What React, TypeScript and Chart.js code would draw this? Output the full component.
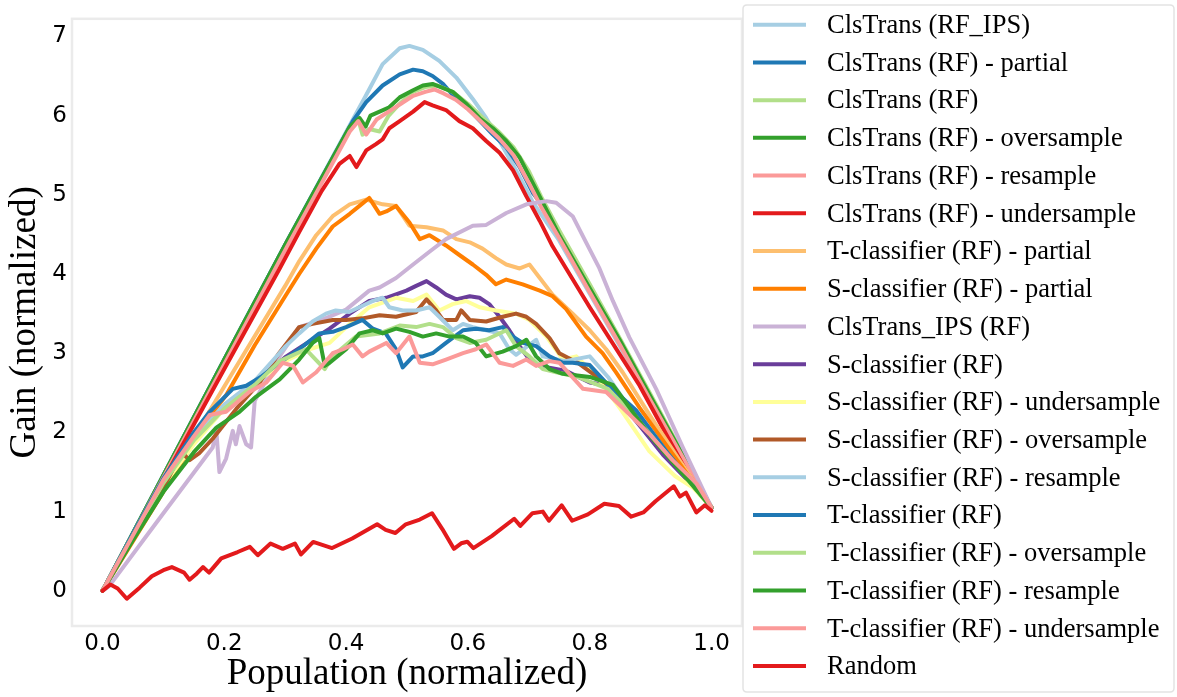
import { useEffect, useRef } from "react";
import { Chart, registerables } from "chart.js";

Chart.register(...registerables);

type Pt = [number, number];

const seriesLabels = [
  "ClsTrans (RF_IPS)",
  "ClsTrans (RF) - partial",
  "ClsTrans (RF)",
  "ClsTrans (RF) - oversample",
  "ClsTrans (RF) - resample",
  "ClsTrans (RF) - undersample",
  "T-classifier (RF) - partial",
  "S-classifier (RF) - partial",
  "ClsTrans_IPS (RF)",
  "S-classifier (RF)",
  "S-classifier (RF) - undersample",
  "S-classifier (RF) - oversample",
  "S-classifier (RF) - resample",
  "T-classifier (RF)",
  "T-classifier (RF) - oversample",
  "T-classifier (RF) - resample",
  "T-classifier (RF) - undersample",
  "Random",
];

const seriesColors = [
  "#a6cee3", "#1f78b4", "#b2df8a", "#33a02c", "#fb9a99", "#e31a1c",
  "#fdbf6f", "#ff7f00", "#cab2d6", "#6a3d9a", "#ffff99", "#b15928",
  "#a6cee3", "#1f78b4", "#b2df8a", "#33a02c", "#fb9a99", "#e31a1c",
];

const clsTransRfIps: Pt[] = [[0,0],[0.1,1.46],[0.2,2.92],[0.3,4.37],[0.406,5.88],[0.433,6.26],[0.46,6.65],[0.488,6.85],[0.504,6.88],[0.526,6.83],[0.553,6.69],[0.581,6.48],[0.608,6.21],[0.63,5.97],[0.652,5.68],[0.679,5.31],[0.707,4.9],[0.75,4.42],[0.8,3.75],[0.85,3.08],[0.9,2.4],[0.95,1.72],[1,1.05]];
const clsTransPartial: Pt[] = [[0,0],[0.1,1.46],[0.2,2.92],[0.3,4.37],[0.411,5.93],[0.433,6.17],[0.46,6.38],[0.488,6.52],[0.51,6.58],[0.526,6.56],[0.542,6.5],[0.559,6.4],[0.581,6.21],[0.603,6.07],[0.624,5.9],[0.641,5.76],[0.663,5.6],[0.685,5.35],[0.707,5.02],[0.729,4.8],[0.8,3.84],[0.85,3.15],[0.9,2.45],[0.95,1.76],[1,1.05]];
const clsTransRf: Pt[] = [[0,0],[0.1,1.45],[0.2,2.9],[0.3,4.34],[0.406,5.84],[0.42,5.95],[0.427,5.76],[0.438,5.83],[0.455,5.8],[0.47,6.0],[0.488,6.15],[0.51,6.3],[0.53,6.36],[0.55,6.38],[0.575,6.3],[0.6,6.15],[0.625,5.97],[0.65,5.8],[0.675,5.6],[0.7,5.3],[0.72,4.98],[0.75,4.55],[0.8,3.87],[0.85,3.18],[0.9,2.48],[0.95,1.77],[1,1.05]];
const clsTransOver: Pt[] = [[0,0],[0.1,1.46],[0.2,2.92],[0.3,4.37],[0.406,5.86],[0.422,5.97],[0.432,5.86],[0.44,6.0],[0.455,6.05],[0.47,6.1],[0.488,6.23],[0.51,6.32],[0.526,6.38],[0.542,6.4],[0.575,6.3],[0.597,6.15],[0.619,5.97],[0.641,5.84],[0.663,5.68],[0.685,5.47],[0.707,5.14],[0.729,4.81],[0.75,4.49],[0.8,3.82],[0.849,3.17],[0.9,2.45],[0.95,1.75],[1,1.05]];
const clsTransResample: Pt[] = [[0,0],[0.1,1.43],[0.2,2.86],[0.3,4.3],[0.406,5.8],[0.42,5.93],[0.433,5.76],[0.45,5.95],[0.47,6.05],[0.49,6.15],[0.51,6.25],[0.53,6.3],[0.545,6.33],[0.56,6.28],[0.58,6.2],[0.6,6.08],[0.625,5.9],[0.65,5.72],[0.675,5.5],[0.7,5.15],[0.72,4.85],[0.75,4.45],[0.8,3.77],[0.85,3.1],[0.9,2.4],[0.95,1.72],[1,1.05]];
const clsTransUnder: Pt[] = [[0,0],[0.1,1.4],[0.2,2.8],[0.291,4.07],[0.323,4.53],[0.36,5.05],[0.389,5.39],[0.406,5.49],[0.417,5.35],[0.433,5.56],[0.449,5.64],[0.46,5.7],[0.471,5.84],[0.488,5.93],[0.51,6.05],[0.529,6.17],[0.542,6.13],[0.564,6.07],[0.586,5.93],[0.608,5.84],[0.63,5.68],[0.652,5.53],[0.674,5.31],[0.696,4.98],[0.718,4.67],[0.739,4.35],[0.8,3.58],[0.882,2.59],[0.958,1.52],[1,1.05]];
const tPartial: Pt[] = [[0,0],[0.1,1.3],[0.2,2.58],[0.3,3.85],[0.323,4.16],[0.351,4.49],[0.378,4.73],[0.406,4.88],[0.433,4.94],[0.46,4.88],[0.482,4.86],[0.504,4.61],[0.532,4.59],[0.559,4.55],[0.581,4.44],[0.603,4.4],[0.624,4.32],[0.646,4.2],[0.663,4.12],[0.685,4.07],[0.701,4.12],[0.718,3.95],[0.739,3.74],[0.772,3.5],[0.8,3.29],[0.827,3.05],[0.854,2.76],[0.9,2.2],[0.95,1.62],[1,1.05]];
const sPartial: Pt[] = [[0,0],[0.1,1.25],[0.176,2.2],[0.203,2.47],[0.25,3.1],[0.3,3.72],[0.323,4.0],[0.351,4.32],[0.378,4.6],[0.406,4.76],[0.422,4.86],[0.438,4.96],[0.455,4.76],[0.466,4.79],[0.482,4.86],[0.504,4.65],[0.521,4.44],[0.537,4.49],[0.564,4.36],[0.586,4.24],[0.608,4.12],[0.63,3.99],[0.646,3.87],[0.663,3.93],[0.69,3.87],[0.718,3.79],[0.739,3.72],[0.761,3.56],[0.794,3.21],[0.821,3.0],[0.843,2.76],[0.882,2.31],[0.936,1.73],[1,1.05]];
const clsTransIps: Pt[] = [[0,0],[0.011,0.06],[0.1,0.98],[0.181,1.81],[0.187,2.02],[0.192,1.5],[0.203,1.67],[0.214,2.02],[0.219,1.85],[0.225,2.08],[0.236,1.85],[0.244,1.81],[0.25,2.4],[0.258,2.51],[0.29,2.95],[0.323,3.33],[0.36,3.42],[0.4,3.55],[0.438,3.79],[0.455,3.83],[0.482,3.95],[0.51,4.12],[0.54,4.3],[0.564,4.44],[0.608,4.61],[0.63,4.62],[0.663,4.77],[0.696,4.88],[0.729,4.92],[0.745,4.9],[0.772,4.73],[0.794,4.4],[0.816,4.07],[0.838,3.66],[0.865,3.2],[0.909,2.55],[0.953,1.81],[1,1.05]];
const sClassifier: Pt[] = [[0,0],[0.05,0.68],[0.1,1.35],[0.15,1.9],[0.2,2.3],[0.25,2.62],[0.3,2.95],[0.34,3.15],[0.373,3.31],[0.406,3.5],[0.438,3.66],[0.466,3.7],[0.499,3.79],[0.515,3.85],[0.532,3.91],[0.548,3.83],[0.564,3.74],[0.581,3.68],[0.603,3.72],[0.619,3.7],[0.635,3.62],[0.652,3.46],[0.668,3.29],[0.685,3.09],[0.701,2.92],[0.718,2.84],[0.76,2.78],[0.8,2.63],[0.833,2.59],[0.87,2.2],[0.92,1.72],[0.96,1.4],[1,1.05]];
const sUnder: Pt[] = [[0,0],[0.05,0.67],[0.1,1.33],[0.15,1.85],[0.2,2.3],[0.25,2.62],[0.3,2.9],[0.34,3.05],[0.373,3.13],[0.406,3.37],[0.438,3.58],[0.482,3.7],[0.51,3.66],[0.532,3.74],[0.553,3.54],[0.575,3.62],[0.597,3.66],[0.619,3.58],[0.646,3.54],[0.679,3.5],[0.701,3.42],[0.729,3.21],[0.756,2.92],[0.778,2.96],[0.81,2.72],[0.85,2.3],[0.898,1.76],[0.94,1.45],[0.97,1.3],[1,1.05]];
const sOver: Pt[] = [[0,0],[0.05,0.66],[0.1,1.3],[0.13,1.75],[0.143,1.65],[0.159,1.74],[0.181,1.92],[0.22,2.3],[0.258,2.63],[0.29,3.0],[0.323,3.33],[0.345,3.37],[0.378,3.42],[0.4,3.42],[0.427,3.44],[0.455,3.48],[0.482,3.46],[0.515,3.52],[0.532,3.68],[0.548,3.54],[0.559,3.42],[0.581,3.42],[0.589,3.54],[0.603,3.42],[0.63,3.4],[0.657,3.46],[0.679,3.5],[0.696,3.46],[0.712,3.37],[0.734,3.19],[0.75,3.0],[0.78,2.88],[0.83,2.6],[0.88,2.15],[0.94,1.62],[1,1.05]];
const sResample: Pt[] = [[0,0],[0.05,0.7],[0.1,1.38],[0.15,1.92],[0.2,2.35],[0.25,2.65],[0.301,3.09],[0.323,3.25],[0.345,3.4],[0.367,3.5],[0.383,3.54],[0.405,3.52],[0.427,3.6],[0.444,3.66],[0.46,3.7],[0.471,3.58],[0.493,3.54],[0.515,3.54],[0.537,3.58],[0.553,3.46],[0.575,3.29],[0.592,3.37],[0.608,3.33],[0.63,3.29],[0.652,3.25],[0.668,3.05],[0.679,2.98],[0.712,3.17],[0.723,2.96],[0.76,2.9],[0.8,2.96],[0.83,2.7],[0.88,2.15],[0.94,1.62],[1,1.05]];
const tClassifier: Pt[] = [[0,0],[0.05,0.72],[0.1,1.42],[0.15,2.0],[0.176,2.26],[0.214,2.55],[0.236,2.59],[0.26,2.7],[0.291,2.88],[0.323,3.05],[0.356,3.25],[0.378,3.27],[0.4,3.33],[0.427,3.42],[0.444,3.31],[0.465,3.25],[0.482,3.05],[0.493,2.82],[0.51,2.96],[0.526,2.96],[0.542,3.0],[0.564,3.13],[0.592,3.29],[0.613,3.31],[0.635,3.29],[0.657,3.33],[0.674,3.21],[0.69,3.13],[0.712,3.09],[0.734,2.96],[0.756,2.88],[0.772,2.88],[0.8,2.85],[0.83,2.6],[0.876,2.28],[0.93,1.72],[1,1.05]];
const tOver: Pt[] = [[0,0],[0.05,0.69],[0.1,1.36],[0.15,1.9],[0.2,2.3],[0.25,2.6],[0.291,2.9],[0.334,3.05],[0.345,2.96],[0.365,2.8],[0.378,2.96],[0.416,3.21],[0.455,3.25],[0.488,3.35],[0.515,3.33],[0.537,3.37],[0.559,3.33],[0.581,3.19],[0.603,3.13],[0.63,3.17],[0.663,3.29],[0.679,3.09],[0.701,2.96],[0.723,2.8],[0.745,2.76],[0.78,2.7],[0.83,2.55],[0.88,2.15],[0.94,1.6],[1,1.05]];
const tResample: Pt[] = [[0,0],[0.05,0.64],[0.1,1.25],[0.15,1.75],[0.187,2.06],[0.225,2.26],[0.252,2.45],[0.291,2.67],[0.323,2.92],[0.345,3.13],[0.356,3.19],[0.365,2.84],[0.373,2.88],[0.4,3.05],[0.422,3.25],[0.444,3.29],[0.46,3.25],[0.482,3.31],[0.504,3.27],[0.526,3.21],[0.548,3.25],[0.57,3.21],[0.592,3.21],[0.613,3.13],[0.63,2.96],[0.657,3.02],[0.679,3.09],[0.696,3.17],[0.712,2.96],[0.734,2.8],[0.756,2.74],[0.8,2.7],[0.838,2.6],[0.9,1.95],[0.95,1.5],[1,1.05]];
const tUnder: Pt[] = [[0,0],[0.05,0.7],[0.1,1.4],[0.15,1.95],[0.176,2.22],[0.203,2.26],[0.241,2.51],[0.269,2.63],[0.296,2.88],[0.313,2.84],[0.329,2.63],[0.351,2.76],[0.378,3.0],[0.395,3.05],[0.411,3.11],[0.427,2.96],[0.438,3.02],[0.466,3.13],[0.482,3.0],[0.504,3.21],[0.521,2.88],[0.542,2.86],[0.564,2.92],[0.592,3.0],[0.613,3.05],[0.63,3.11],[0.652,2.88],[0.674,2.84],[0.696,2.92],[0.712,2.84],[0.734,2.9],[0.75,2.88],[0.789,2.55],[0.827,2.51],[0.854,2.31],[0.898,1.98],[0.936,1.65],[0.975,1.36],[1,1.05]];
const randomGain: Pt[] = [[0,0],[0.013,0.08],[0.025,0.03],[0.04,-0.1],[0.061,0.04],[0.081,0.185],[0.1,0.26],[0.114,0.3],[0.134,0.23],[0.143,0.14],[0.155,0.22],[0.165,0.3],[0.175,0.23],[0.195,0.41],[0.222,0.49],[0.242,0.556],[0.255,0.45],[0.276,0.597],[0.296,0.53],[0.316,0.597],[0.326,0.46],[0.346,0.617],[0.377,0.54],[0.41,0.66],[0.451,0.84],[0.465,0.77],[0.481,0.73],[0.498,0.84],[0.521,0.9],[0.541,0.98],[0.558,0.78],[0.577,0.53],[0.589,0.6],[0.599,0.62],[0.609,0.54],[0.639,0.69],[0.676,0.91],[0.686,0.82],[0.706,0.98],[0.723,1.0],[0.733,0.885],[0.754,1.08],[0.771,0.885],[0.797,0.966],[0.824,1.1],[0.848,1.07],[0.868,0.937],[0.888,0.99],[0.908,1.13],[0.938,1.32],[0.948,1.19],[0.958,1.24],[0.975,0.99],[0.989,1.08],[1,1.01]];

const seriesData: Pt[][] = [
  clsTransRfIps, clsTransPartial, clsTransRf, clsTransOver, clsTransResample, clsTransUnder,
  tPartial, sPartial, clsTransIps, sClassifier, sUnder, sOver,
  sResample, tClassifier, tOver, tResample, tUnder, randomGain,
];

const xTickValues = [0, 0.2, 0.4, 0.6, 0.8, 1.0];
const yTickValues = [0, 1, 2, 3, 4, 5, 6, 7];

const framePlugin = {
  id: "axesFrame",
  beforeDatasetsDraw(chart: any) {
    const { ctx, chartArea: a } = chart;
    ctx.save();
    ctx.strokeStyle = "#ebebeb";
    ctx.lineWidth = 2.5;
    ctx.strokeRect(a.left, a.top, a.right - a.left, a.bottom - a.top);
    ctx.restore();
  },
};

const boxLegendPlugin = {
  id: "boxLegend",
  afterDraw(chart: any) {
    const { ctx, chartArea: a } = chart;
    const bx = a.right + 1;
    const by = 5;
    const bw = chart.width - 3 - bx;
    const bh = 687;
    const r = 4;
    ctx.save();
    ctx.beginPath();
    ctx.moveTo(bx + r, by);
    ctx.lineTo(bx + bw - r, by);
    ctx.quadraticCurveTo(bx + bw, by, bx + bw, by + r);
    ctx.lineTo(bx + bw, by + bh - r);
    ctx.quadraticCurveTo(bx + bw, by + bh, bx + bw - r, by + bh);
    ctx.lineTo(bx + r, by + bh);
    ctx.quadraticCurveTo(bx, by + bh, bx, by + bh - r);
    ctx.lineTo(bx, by + r);
    ctx.quadraticCurveTo(bx, by, bx + r, by);
    ctx.closePath();
    ctx.fillStyle = "rgba(255,255,255,0.85)";
    ctx.fill();
    ctx.strokeStyle = "#e3e3e3";
    ctx.lineWidth = 1.5;
    ctx.stroke();
    const step = 37.72;
    chart.data.datasets.forEach((ds: any, i: number) => {
      const y = 24.7 + i * step;
      ctx.beginPath();
      ctx.strokeStyle = ds.borderColor;
      ctx.lineWidth = 4;
      ctx.lineCap = "butt";
      ctx.moveTo(bx + 10, y);
      ctx.lineTo(bx + 63, y);
      ctx.stroke();
      ctx.fillStyle = "#000";
      ctx.font = '26.5px "Liberation Serif"';
      ctx.textBaseline = "middle";
      ctx.textAlign = "left";
      ctx.fillText(ds.label, bx + 84, y + 1.4);
    });
    ctx.restore();
  },
};

export default function App() {
  const canvasRef = useRef<HTMLCanvasElement | null>(null);

  useEffect(() => {
    const canvas = canvasRef.current;
    if (!canvas) return;
    const n = seriesData.length;
    const chart = new Chart(canvas, {
      type: "line",
      data: {
        datasets: seriesData.map((pts, i) => ({
          label: seriesLabels[i],
          data: pts.map(([x, y]) => ({ x, y })),
          borderColor: seriesColors[i],
          backgroundColor: seriesColors[i],
          borderWidth: 4,
          pointRadius: 0,
          pointHoverRadius: 0,
          tension: 0,
          fill: false,
          borderJoinStyle: "round" as const,
          borderCapStyle: "round" as const,
          order: n - i,
        })),
      },
      options: {
        responsive: false,
        animation: false,
        parsing: false as any,
        normalized: true,
        layout: { padding: { left: 0, top: 5, right: 435, bottom: 0 } },
        plugins: {
          legend: { display: false },
          tooltip: { enabled: false },
        },
        scales: {
          x: {
            type: "linear",
            min: -0.05,
            max: 1.05,
            afterBuildTicks: (s: any) => {
              s.ticks = xTickValues.map((v) => ({ value: v }));
            },
            afterFit: (s: any) => {
              s.height = 71;
            },
            ticks: {
              autoSkip: false,
              maxRotation: 0,
              padding: 4,
              color: "#000",
              font: { family: "DejaVu Sans", size: 23 },
              callback: (v: any) => Number(v).toFixed(1),
            },
            grid: { display: false, drawTicks: false },
            border: { display: false },
            title: {
              display: true,
              text: "Population (normalized)",
              color: "#000",
              font: { family: "Liberation Serif", size: 37 },
              padding: { top: 0, bottom: 1 },
            },
          },
          y: {
            type: "linear",
            min: -0.444,
            max: 7.222,
            afterBuildTicks: (s: any) => {
              s.ticks = yTickValues.map((v) => ({ value: v }));
            },
            afterFit: (s: any) => {
              s.width = 72;
            },
            ticks: {
              autoSkip: false,
              padding: 5,
              color: "#000",
              font: { family: "DejaVu Sans", size: 23 },
              callback: (v: any) => String(v),
            },
            grid: { display: false, drawTicks: false },
            border: { display: false },
            title: {
              display: true,
              text: "Gain (normalized)",
              color: "#000",
              font: { family: "Liberation Serif", size: 37 },
              padding: { top: 3, bottom: 0 },
            },
          },
        },
      },
      plugins: [framePlugin, boxLegendPlugin],
    });
    return () => chart.destroy();
  }, []);

  return (
    <div style={{ position: "fixed", left: 0, top: 0, width: 1177, height: 697, background: "#fff" }}>
      <canvas ref={canvasRef} width={1177} height={697} style={{ display: "block", width: 1177, height: 697 }} />
    </div>
  );
}
